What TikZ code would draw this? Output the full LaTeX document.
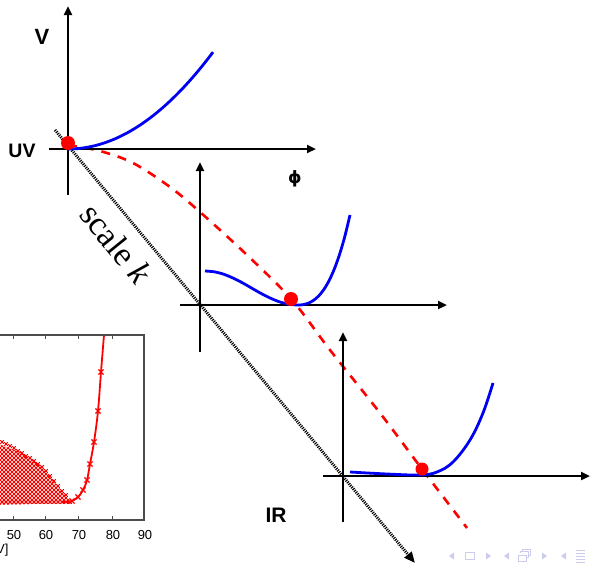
\documentclass[tikz,border=0pt]{standalone}
\usepackage{fontspec}
\newfontfamily\lsans{Liberation Sans}
\newfontfamily\lserif{Liberation Serif}
\newfontfamily\dsans{DejaVu Sans}
\usetikzlibrary{arrows.meta,plotmarks}
\definecolor{navcol}{rgb}{0.80,0.80,0.93}
\definecolor{pblue}{rgb}{0,0,0.95}
\begin{document}
\begin{tikzpicture}[x=1pt,y=-1pt,
  axis/.style={line width=2.6pt,-{Triangle[length=9pt,width=8pt]}},
  pot/.style={pblue,line width=2.8pt},
  flow/.style={red,line width=2.6pt,dash pattern=on 9pt off 8pt},
  fixpt/.style={circle,fill=red,inner sep=0pt,minimum size=14pt},
  lab/.style={font=\lsans\bfseries\fontsize{19.5}{22}\selectfont},
  ticklab/.style={font=\lsans\fontsize{13}{15}\selectfont},
  nav/.style={navcol,line width=1pt},
  navfill/.style={fill=navcol}]
\useasboundingbox (0,0) rectangle (590,568);
\clip (0,0) rectangle (590,568);

% ---------------- inset plot ----------------
\begin{scope}
  \clip (-10,441) -- (20,452) -- (40,465) -- (55,483) -- (65,495) -- (72,503) -- (-10,505) -- cycle;
  \foreach \s in {-120,-116,...,220} {
    \draw[red,line width=0.9pt] (\s,420) -- ++(100,100);
    \draw[red,line width=0.9pt] (\s,420) -- ++(-100,100);
  }
\end{scope}
\draw[red,line width=0.9pt] plot[only marks,mark=x,mark size=2.6pt] coordinates {
  (2,442) (6,444) (10,446) (14,448) (18,451) (22,453) (26,456) (30,458)
  (34,461) (38,464) (42,467) (46,471) (50,476) (54,481) (58,486) (62,491) (66,495)};
\draw[red,line width=0.9pt] plot[only marks,mark=x,mark size=2.6pt] coordinates {
  (2,502) (6,502) (10,502) (14,502) (18,502) (22,502) (26,502) (30,502) (34,502)
  (38,502) (42,502) (46,502) (50,502) (54,502) (58,502) (62,502) (66,502) (70,502)};
\draw[red,line width=1.8pt] plot[smooth,tension=0.6] coordinates {
  (62,502) (68,502) (72,501) (78,497) (83,490) (87,480) (90,464) (94,442) (98,411) (101,372) (104,335)};
\draw[red,line width=1.4pt] plot[only marks,mark=x,mark size=3.6pt] coordinates {
  (72,501) (78,497) (83,490) (87,480) (90,464) (94,442) (98,411) (101,372)};
\draw[black!70,line width=1.2pt] (-10,335) -- (144,335) -- (144,520) -- (-10,520);
\foreach \x/\v in {13/50,45/60,78/70,112/80,144/90} {
  \ifnum\v<90
  \draw[black!70,line width=1pt] (\x,335) -- ++(0,4);
  \draw[black!70,line width=1pt] (\x,520) -- ++(0,-4);
  \fi
  \node[ticklab] (t\v) at (\x+1,535) {\v};
}
\node[ticklab,anchor=east] (unit) at (12,550) {V]};

% ---------------- scale k line ----------------
\coordinate (ks) at (55,130);
\coordinate (ke) at (415,563);
\draw[line width=3pt,dash pattern=on 1.1pt off 1.1pt,-{Triangle[length=11pt,width=9pt]}] (ks) -- (ke);
\node[font=\lserif\fontsize{34}{38}\selectfont,rotate=-51,inner sep=0pt] (sk) at (116,244) {scale \textit{k}};

% ---------------- flow (dashed) ----------------
\draw[flow] plot[smooth,tension=0.55] coordinates {
  (68,145) (100,151) (133,163) (170,187) (200,212) (247,255) (292,300)
  (330,350) (380,413) (422,469) (467,528)};

% ---------------- UV plot ----------------
\coordinate (o1) at (68,149);
\draw[axis] (68,195) -- (68,6);
\draw[axis] (49,149) -- (316,149);
\draw[pot] plot[domain=0:145,samples=50] ({68+\x},{149-0.00461*\x*\x});
\node[fixpt] (p1) at (68,143) {};
\node[font=\lsans\bfseries\fontsize{22}{24}\selectfont] (lV) at (42,37) {V};
\node[lab] (lUV) at (22,151) {UV};
\node[font=\dsans\bfseries\fontsize{17}{20}\selectfont] (lphi) at (295,179) {ϕ};

% ---------------- middle plot ----------------
\coordinate (o2) at (200,305);
\draw[axis] (200,352) -- (200,162);
\draw[axis] (180,305) -- (447,305);
\draw[pot] plot[smooth] coordinates {
  (205,271) (214.3,271.8) (223.6,274.2) (232.9,278.0) (242.2,282.7) (251.5,288)
  (260.8,293.3) (270.1,298.0) (279.4,301.8) (288.7,304.2) (298,305)
  (303.2,304.6) (308.4,303.1) (313.6,300.3) (318.8,295.8) (324,289.3)
  (329.2,280.4) (334.4,268.8) (339.6,254.3) (344.8,236.5) (350,215)};
\node[fixpt] (p2) at (291,299) {};

% ---------------- IR plot ----------------
\coordinate (o3) at (343,476);
\draw[axis] (343,522) -- (343,332);
\draw[axis] (323,476) -- (590,476);
\draw[pot] plot[smooth,tension=0.6] coordinates {
  (350,472) (387,474) (420,475) (437,472) (453,462) (470,440) (483,413) (493,383)};
\node[fixpt,minimum size=13pt] (p3) at (422,469) {};
\node[lab,font=\lsans\bfseries\fontsize{21}{23}\selectfont] (lIR) at (276,515) {IR};

% ---------------- navigation symbols ----------------
\fill[navcol] (449,556) -- (454,552.5) -- (454,559.5) -- cycle;
\draw[nav] (465,552.5) rectangle (474,559.5);
\fill[navcol] (491,556) -- (486,552.5) -- (486,559.5) -- cycle;
\fill[navcol] (504,556) -- (509,552.5) -- (509,559.5) -- cycle;
\draw[nav] (518,555) rectangle (526,561);
\draw[nav] (520,553) -- (520,551.5) -- (528,551.5) -- (528,557.5) -- (526,557.5);
\draw[nav] (522,551.5) -- (522,549.5) -- (530,549.5) -- (530,555.5) -- (528,555.5);
\fill[navcol] (547,556) -- (542,552.5) -- (542,559.5) -- cycle;
\fill[navcol] (561,556) -- (566,552.5) -- (566,559.5) -- cycle;
\foreach \yy in {550,553,556,559,562} \draw[nav] (576,\yy) -- (585,\yy);
\end{tikzpicture}
\end{document}
